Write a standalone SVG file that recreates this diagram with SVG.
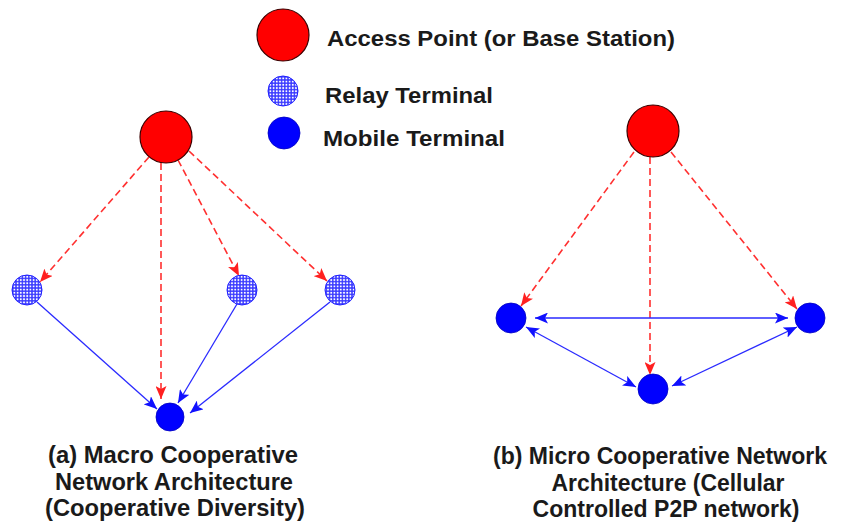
<svg xmlns="http://www.w3.org/2000/svg" width="844" height="524" viewBox="0 0 844 524">
<defs>
<pattern id="dots" width="3.2" height="3.2" patternUnits="userSpaceOnUse">
<rect width="3.2" height="3.2" fill="#3b3bff"/>
<circle cx="1.6" cy="1.6" r="1" fill="#ffffff"/>
</pattern>
<marker id="ar" viewBox="0 0 13 11" refX="13" refY="5.5" markerWidth="13" markerHeight="11" markerUnits="userSpaceOnUse" orient="auto-start-reverse">
<path d="M0,0 L13,5.5 L0,11 L3,5.5 z" fill="#ff2020"/>
</marker>
<marker id="ab" viewBox="0 0 13 11" refX="13" refY="5.5" markerWidth="13" markerHeight="11" markerUnits="userSpaceOnUse" orient="auto-start-reverse">
<path d="M0,0 L13,5.5 L0,11 L3,5.5 z" fill="#1010ff"/>
</marker>
</defs>
<style>
.ap{fill:#ff0000;stroke:#3a0000;stroke-width:1.2}
.relay{fill:url(#dots);stroke:#2020ff;stroke-width:1}
.mob{fill:#0000ff;stroke:#0000c0;stroke-width:0.8}
.red{stroke:#ff3030;stroke-width:1.6;stroke-dasharray:7,4;fill:none;marker-end:url(#ar)}
.blue{stroke:#2a2aff;stroke-width:1.3;fill:none;marker-end:url(#ab)}
.both{marker-start:url(#ab)}
.leg{font-family:"Liberation Sans",Arial,sans-serif;font-weight:bold;font-size:21.5px;fill:#1a1a1a}
.cap{font-family:"Liberation Sans",Arial,sans-serif;font-weight:bold;font-size:24px;fill:#1a1a1a;text-anchor:middle}
</style>
<g id="legend">
<g id="legend-ap"><circle class="ap" cx="283" cy="35" r="26"/><text class="leg" x="327" y="46" textLength="348" lengthAdjust="spacingAndGlyphs">Access Point (or Base Station)</text></g>
<g id="legend-relay"><circle class="relay" cx="283" cy="91" r="15"/><text class="leg" x="325" y="103" textLength="168" lengthAdjust="spacingAndGlyphs">Relay Terminal</text></g>
<g id="legend-mobile"><circle class="mob" cx="284" cy="133" r="16"/><text class="leg" x="323" y="146" textLength="182" lengthAdjust="spacingAndGlyphs">Mobile Terminal</text></g>
</g>
<g id="connectors">
<line class="red" x1="149" y1="157" x2="40" y2="282"/>
<line class="red" x1="161" y1="163" x2="161" y2="399"/>
<line class="red" x1="178" y1="160" x2="239" y2="276"/>
<line class="red" x1="189" y1="151" x2="327" y2="281"/>
<line class="blue" x1="37" y1="302" x2="157" y2="409"/>
<line class="blue" x1="237" y1="304" x2="178" y2="403"/>
<line class="blue" x1="330" y1="302" x2="190" y2="413"/>
<line class="red" x1="634" y1="152" x2="521" y2="306"/>
<line class="red" x1="650" y1="157" x2="650" y2="375"/>
<line class="red" x1="671" y1="152" x2="797" y2="309"/>
<line class="blue both" x1="535" y1="318" x2="788" y2="318"/>
<line class="blue both" x1="526" y1="327" x2="636" y2="387"/>
<line class="blue both" x1="797" y1="327" x2="672" y2="386"/>
</g>
<g id="a-ap"><circle class="ap" cx="166" cy="137" r="26"/></g>
<g id="a-relay1"><circle class="relay" cx="27" cy="290" r="15"/></g>
<g id="a-relay2"><circle class="relay" cx="242" cy="290" r="15"/></g>
<g id="a-relay3"><circle class="relay" cx="340" cy="290" r="15"/></g>
<g id="a-mobile"><circle class="mob" cx="170" cy="417" r="14"/></g>
<g id="b-ap"><circle class="ap" cx="653" cy="131" r="26"/></g>
<g id="b-mobile1"><circle class="mob" cx="511" cy="318" r="15"/></g>
<g id="b-mobile2"><circle class="mob" cx="810" cy="318" r="15"/></g>
<g id="b-mobile3"><circle class="mob" cx="653" cy="389" r="15"/></g>
<g id="caption-a">
<text class="cap" x="173" y="463" textLength="250" lengthAdjust="spacingAndGlyphs">(a) Macro Cooperative</text>
<text class="cap" x="174" y="490" textLength="238" lengthAdjust="spacingAndGlyphs">Network Architecture</text>
<text class="cap" x="175" y="516" textLength="260" lengthAdjust="spacingAndGlyphs">(Cooperative Diversity)</text>
</g>
<g id="caption-b">
<text class="cap" x="660" y="464" font-size="23" textLength="334" lengthAdjust="spacingAndGlyphs">(b) Micro Cooperative Network</text>
<text class="cap" x="668" y="491" textLength="233" lengthAdjust="spacingAndGlyphs">Architecture (Cellular</text>
<text class="cap" x="666" y="517" textLength="267" lengthAdjust="spacingAndGlyphs">Controlled P2P network)</text>
</g>
</svg>
